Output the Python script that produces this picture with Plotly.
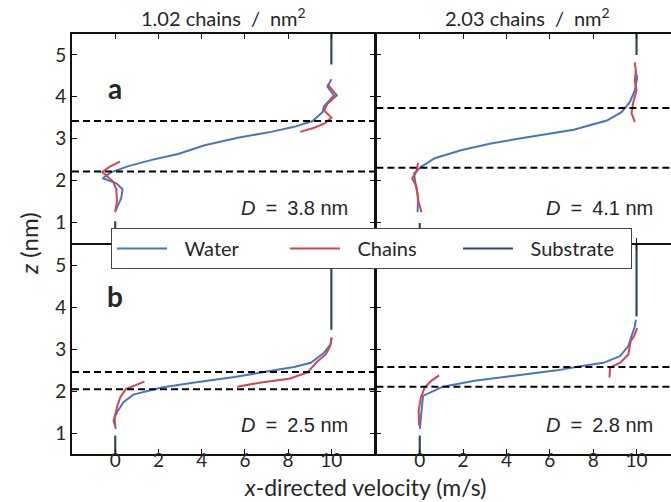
import plotly.graph_objects as go
from plotly.subplots import make_subplots

# ---------------- data ----------------
col_titles = ["1.02 chains\u2002/\u2002nm<sup>2</sup>", "2.03 chains\u2002/\u2002nm<sup>2</sup>"]
row_labels = ["a", "b"]
gap_labels = ["<i>D</i>\u2002=\u20023.8 nm", "<i>D</i>\u2002=\u20024.1 nm",
              "<i>D</i>\u2002=\u20022.5 nm", "<i>D</i>\u2002=\u20022.8 nm"]
series_names = ["Water", "Chains", "Substrate"]
xtick_vals = [0, 2, 4, 6, 8, 10]
ytick_vals = [1, 2, 3, 4, 5]

# top-left (a, 1.02)
water_tl_v = [0.0, 0.28, 0.34, 0.05, -0.58, -0.2, 0.61, 1.69, 2.91, 4.14, 5.67, 7.21, 8.28, 9.13, 9.59, 9.66, 10.12, 9.82, 10.0]
water_tl_z = [1.26, 1.58, 1.79, 1.93, 2.05, 2.19, 2.34, 2.49, 2.63, 2.84, 3.02, 3.16, 3.28, 3.42, 3.63, 3.77, 4.03, 4.24, 4.42]
chain_lo_tl_v = [0.0, 0.08, 0.05, -0.1, -0.6, -0.25, 0.22]
chain_lo_tl_z = [1.24, 1.52, 1.79, 1.97, 2.2, 2.33, 2.45]
chain_hi_tl_v = [8.56, 9.2, 9.69, 10.0, 9.66, 9.82, 10.25, 10.0, 9.82]
chain_hi_tl_z = [3.16, 3.26, 3.36, 3.5, 3.67, 3.83, 4.03, 4.19, 4.30]

# top-right (a, 2.03)
water_tr_v = [-0.1, -0.08, -0.2, -0.26, 0.08, 0.69, 1.9, 3.28, 4.81, 7.1, 8.63, 9.31, 9.69, 9.92, 10.03, 9.95]
water_tr_z = [1.24, 1.62, 1.93, 2.17, 2.33, 2.53, 2.72, 2.88, 3.02, 3.21, 3.43, 3.63, 3.87, 4.15, 4.46, 4.62]
chain_lo_tr_v = [0.08, -0.08, -0.15, -0.35, -0.15, -0.08]
chain_lo_tr_z = [1.24, 1.54, 1.85, 2.05, 2.21, 2.42]
chain_hi_tr_v = [9.92, 9.77, 9.85, 10.0, 9.92, 9.97, 9.92]
chain_hi_tr_z = [3.40, 3.61, 3.87, 4.15, 4.38, 4.62, 4.82]

# bottom-left (b, 1.02)
water_bl_v = [0.03, -0.08, 0.08, 0.38, 0.84, 2.15, 3.68, 5.52, 7.21, 8.28, 9.05, 9.66, 9.97, 10.0]
water_bl_z = [1.10, 1.30, 1.50, 1.74, 1.92, 2.09, 2.21, 2.34, 2.49, 2.58, 2.68, 2.92, 3.13, 3.28]
chain_lo_bl_v = [0.0, -0.03, 0.08, 0.23, 0.49, 0.84, 1.35]
chain_lo_bl_z = [1.18, 1.38, 1.62, 1.85, 2.05, 2.13, 2.23]
chain_hi_bl_v = [5.64, 6.75, 8.05, 8.9, 9.36, 9.74, 9.94, 10.02]
chain_hi_bl_z = [2.11, 2.21, 2.30, 2.45, 2.72, 2.88, 3.08, 3.29]

# bottom-right (b, 2.03)
water_br_v = [0.0, 0.05, 0.08, 0.15, 1.07, 2.52, 4.35, 6.34, 7.4, 8.47, 9.24, 9.62, 9.77, 9.92, 9.97]
water_br_z = [1.10, 1.34, 1.62, 1.89, 2.11, 2.25, 2.37, 2.50, 2.60, 2.68, 2.84, 3.08, 3.32, 3.55, 3.71]
chain_lo_br_v = [-0.03, -0.05, 0.05, 0.23, 0.53, 0.89]
chain_lo_br_z = [1.18, 1.54, 1.85, 2.09, 2.25, 2.38]
chain_hi_br_v = [8.75, 8.78, 9.24, 9.62, 9.73, 9.89, 10.03]
chain_hi_br_z = [2.33, 2.57, 2.68, 2.88, 3.20, 3.32, 3.51]

# substrate: velocity of walls and z extents (bottom wall up to, top wall from)
substrate_v = [0.0, 10.0]
substrate_lo_top = [1.02, 0.98, 0.94, 0.94]
substrate_hi_bot = [4.77, 5.00, 3.47, 3.79]
z_min, z_max = 0.5, 5.5

# interface (dashed) positions
interfaces = [[3.42, 2.21], [3.73, 2.30], [2.46, 2.05], [2.58, 2.11]]

# ---------------- styling ----------------
BLUE = "#4a74c1"
RED = "#d0474f"
SUB = "#34495e"
AX = "#111111"
TXT = "#262626"
FONT = "Lato"
LW = 1.8
PW, PH = 599, 420  # plot area in px
LEG_PAD = "\u2002\u2009"

panels = [
    (1, 1, water_tl_v, water_tl_z, chain_lo_tl_v, chain_lo_tl_z, chain_hi_tl_v, chain_hi_tl_z),
    (1, 2, water_tr_v, water_tr_z, chain_lo_tr_v, chain_lo_tr_z, chain_hi_tr_v, chain_hi_tr_z),
    (2, 1, water_bl_v, water_bl_z, chain_lo_bl_v, chain_lo_bl_z, chain_hi_bl_v, chain_hi_bl_z),
    (2, 2, water_br_v, water_br_z, chain_lo_br_v, chain_lo_br_z, chain_hi_br_v, chain_hi_br_z),
]

fig = make_subplots(rows=2, cols=2, horizontal_spacing=LW / PW, vertical_spacing=LW / PH,
                    column_widths=[302.6, 294.6])

for i, (r, c, wv, wz, clv, clz, chv, chz) in enumerate(panels):
    first = i == 0
    fig.add_trace(go.Scatter(x=wv, y=wz, mode="lines", name=LEG_PAD + series_names[0],
                             line=dict(color=BLUE, width=2), showlegend=first,
                             legendrank=1), row=r, col=c)
    fig.add_trace(go.Scatter(x=clv + [None] + chv, y=clz + [None] + chz, mode="lines",
                             name=LEG_PAD + series_names[1], line=dict(color=RED, width=2),
                             showlegend=first, legendrank=2), row=r, col=c)
    fig.add_trace(go.Scatter(x=[substrate_v[0], substrate_v[0], None, substrate_v[1], substrate_v[1]],
                             y=[z_min - 0.2, substrate_lo_top[i], None, substrate_hi_bot[i], z_max + 0.2],
                             mode="lines", name=LEG_PAD + series_names[2],
                             line=dict(color=SUB, width=2.2), showlegend=first,
                             legendrank=3), row=r, col=c)
    axn = "" if i == 0 else str(i + 1)
    for zi in interfaces[i]:
        fig.add_shape(type="line", xref=f"x{axn} domain", yref=f"y{axn}",
                      x0=0, x1=1, y0=zi, y1=zi,
                      line=dict(color="black", width=2, dash="7px,4px"))
    # D label
    fig.add_annotation(xref=f"x{axn}", yref=f"y{axn}", x=10.85,
                       y=1.33 if r == 1 else 1.2, text=gap_labels[i],
                       showarrow=False, xanchor="right", yanchor="middle",
                       font=dict(family="Liberation Sans", size=20, color=TXT))
    if c == 1:
        fig.add_annotation(xref=f"x{axn}", yref=f"y{axn}", x=0,
                           y=4.2 if r == 1 else 4.28, text=f"<b>{row_labels[r-1]}</b>",
                           showarrow=False, xanchor="center", yanchor="middle",
                           font=dict(family=FONT, size=28, color=TXT))

xr_left = [-2, 12]
xr_right = [-2, 11.59]
for r in (1, 2):
    for c in (1, 2):
        fig.update_xaxes(row=r, col=c, range=xr_left if c == 1 else xr_right,
                         tickvals=xtick_vals, showticklabels=(r == 2),
                         ticks="inside", ticklen=5, tickwidth=1, tickcolor=AX,
                         showline=True, linecolor=AX, linewidth=LW, mirror="ticks",
                         showgrid=False, zeroline=False, ticklabelstandoff=-12,
                         tickfont=dict(family=FONT, size=19, color=TXT))
        fig.update_yaxes(row=r, col=c, range=[z_min, z_max],
                         tickvals=ytick_vals, showticklabels=(c == 1),
                         ticks="inside", ticklen=5, tickwidth=1, tickcolor=AX,
                         showline=True, linecolor=AX, linewidth=LW,
                         mirror="ticks" if c == 1 else False,
                         showgrid=False, zeroline=False, ticklabelstandoff=0,
                         tickfont=dict(family=FONT, size=19, color=TXT))

# column titles
fig.add_annotation(xref="paper", yref="paper", x=(223 - 72) / PW, y=(454 - 17) / PH,
                   text=col_titles[0], showarrow=False, xanchor="center", yanchor="middle",
                   font=dict(family=FONT, size=20, color=TXT))
fig.add_annotation(xref="paper", yref="paper", x=(527 - 72) / PW, y=(454 - 17) / PH,
                   text=col_titles[1], showarrow=False, xanchor="center", yanchor="middle",
                   font=dict(family=FONT, size=20, color=TXT))
# axis titles
fig.add_annotation(xref="paper", yref="paper", x=(365 - 72) / PW, y=(454 - 487) / PH,
                   text="<i>x</i>-directed velocity (m/s)", showarrow=False,
                   xanchor="center", yanchor="middle",
                   font=dict(family=FONT, size=23, color=TXT))
fig.add_annotation(xref="paper", yref="paper", x=(28 - 72) / PW, y=0.5,
                   text="<i>z</i> (nm)", showarrow=False, textangle=-90,
                   xanchor="center", yanchor="middle",
                   font=dict(family=FONT, size=24, color=TXT))

fig.update_layout(
    width=671, height=502,
    margin=dict(l=72, r=0, t=34, b=48),
    paper_bgcolor="white", plot_bgcolor="white",
    font=dict(family=FONT, color=TXT),
    legend=dict(orientation="h", x=(111 - 72) / PW, y=(454 - 228) / PH,
                xanchor="left", yanchor="top",
                bgcolor="white", bordercolor="#444444", borderwidth=1,
                font=dict(family=FONT, size=20, color=TXT),
                entrywidth=108, itemwidth=50, tracegroupgap=0),
)

fig.write_html("out.html", config={"displayModeBar": False},
               post_script="document.body.style.margin='0';")
